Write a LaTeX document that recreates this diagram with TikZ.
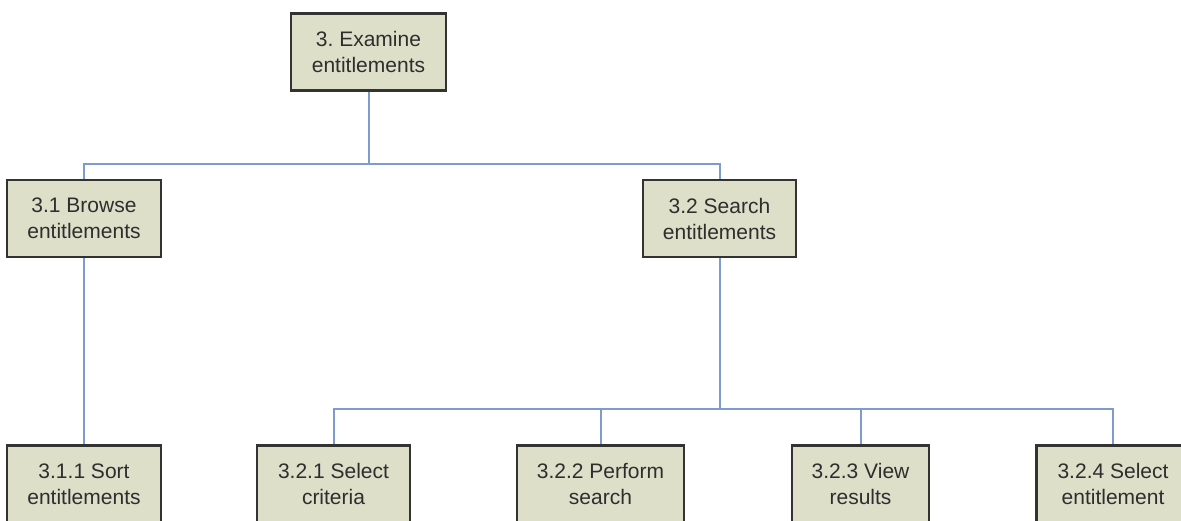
\documentclass[tikz,border=0pt]{standalone}
\usepackage{fontspec}
\setmainfont{Liberation Sans}
\usetikzlibrary{positioning}
\definecolor{taskfill}{RGB}{221,223,201}
\definecolor{linkblue}{RGB}{126,155,205}

\begin{document}
\begin{tikzpicture}[x=0.5pt, y=-0.5pt, thick,
    task/.style={draw=black!80, line width=1.2pt, fill=taskfill, align=center, text=black!82,
      font=\fontsize{10.5}{13}\selectfont, minimum height=38.5pt, inner sep=0pt},
    link/.style={draw=linkblue, line width=1pt}]
          \useasboundingbox (0,0) rectangle (1181,520);
          \node[task, minimum width=77.5pt] (T) at (368.5,52) {3.\ Examine\\entitlements};
          \node[task, minimum width=77pt] (B) at (84,218.5) {3.1 Browse\\entitlements};
          \node[task, minimum width=76.5pt] (S) at (719.5,218.5) {3.2 Search\\entitlements};
          \node[task, minimum width=77pt] (BS) at (84,484) {3.1.1 Sort\\entitlements};
          \node[task, minimum width=76.5pt] (SC) at (333.5,484) {3.2.1 Select\\criteria};
          \node[task, minimum width=83.5pt] (SP) at (600.5,484) {3.2.2 Perform\\search};
          \node[task, minimum width=68.5pt] (SV) at (860.5,484) {3.2.3 View\\results};
          \node[task, minimum width=76.5pt] (SE) at (1113,484) {3.2.4 Select\\entitlement};
          \draw[link] (T.south) -- ++(0,72) coordinate (bar1) -| (B.north);
          \draw[link] (bar1) -| (S.north);
          \draw[link] (B.south) -- (BS.north);
          \draw[link] (S.south) -- ++(0,151) coordinate (bar2);
          \foreach \n in {SC, SP, SV, SE}
            \draw[link] (bar2) -| (\n.north);
      \end{tikzpicture}
\end{document}
